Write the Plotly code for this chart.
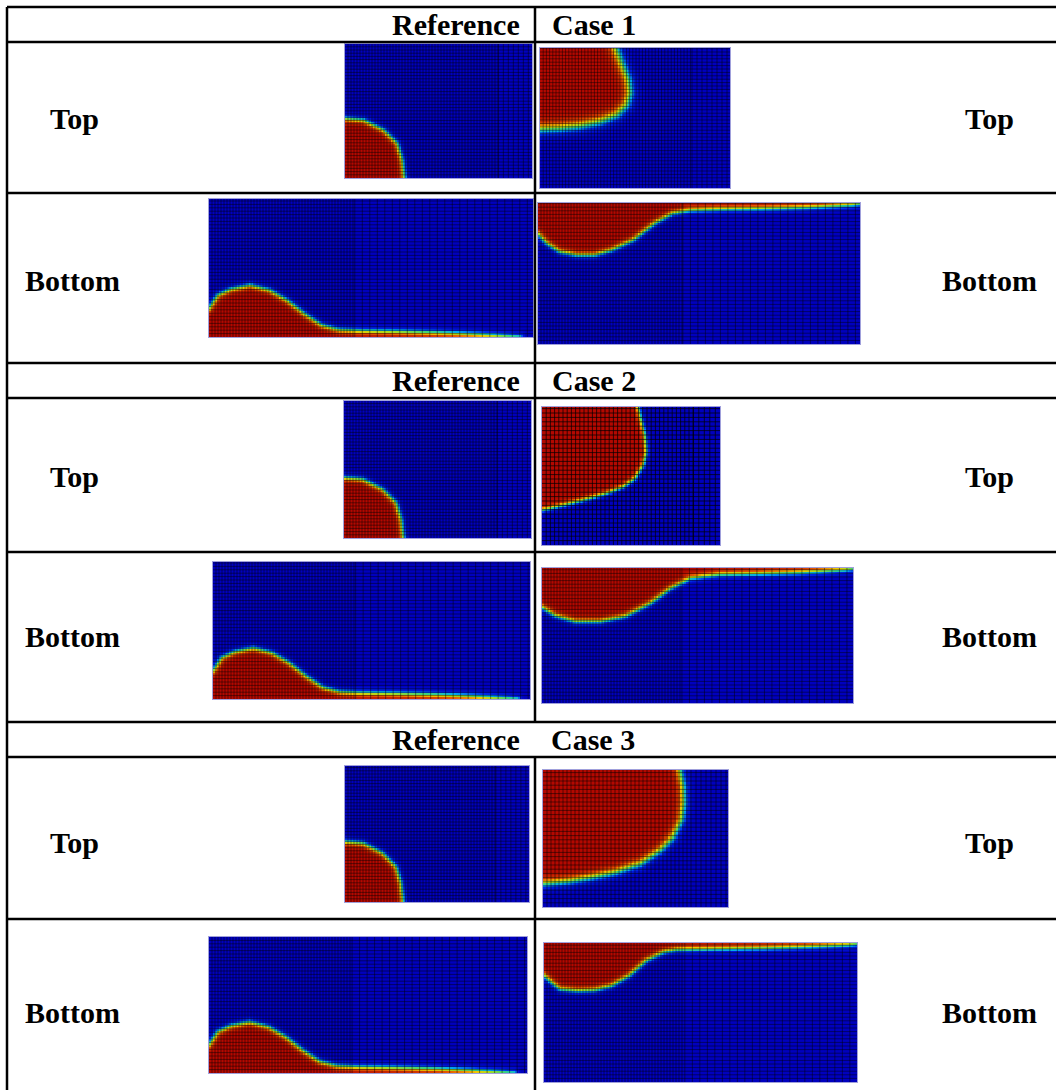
import numpy as np
import plotly.graph_objects as go

FIG_W, FIG_H = 1056, 1090

# ---- text -------------------------------------------------------------
REF_NAME = "Reference"
CASE_NAMES = ["Case 1", "Case 2", "Case 3"]
ROW_LABELS = ["Top", "Bottom"]

# ---- interface profiles (fraction of panel width / height, origin at bottom-left)
# reference solution, top view: liquid lobe in the lower-left corner
REF_TOP_U = [0.0, 0.098, 0.205, 0.277, 0.304, 0.316]
REF_TOP_V = [0.444, 0.432, 0.358, 0.259, 0.136, 0.0]
# reference solution, bottom view: hump with a thin film along the floor
REF_BOTTOM_U = [0.0, 0.027, 0.067, 0.127, 0.187, 0.241, 0.294, 0.348, 0.401, 0.468, 0.575, 0.709, 0.829, 0.96]
REF_BOTTOM_V = [0.206, 0.303, 0.346, 0.375, 0.339, 0.266, 0.169, 0.085, 0.052, 0.045, 0.040, 0.032, 0.020, 0.0]

# case 1
CASE1_TOP_U = [0.40, 0.43, 0.465, 0.474, 0.456, 0.404, 0.316, 0.211, 0.105, 0.0]
CASE1_TOP_V = [1.0, 0.892, 0.773, 0.677, 0.593, 0.522, 0.474, 0.443, 0.426, 0.419]
CASE1_BOTTOM_U = [0.0, 0.027, 0.067, 0.121, 0.175, 0.229, 0.296, 0.363, 0.417, 0.471, 0.565, 0.70, 0.834, 0.97, 1.0]
CASE1_BOTTOM_V = [0.779, 0.712, 0.652, 0.628, 0.628, 0.664, 0.736, 0.856, 0.925, 0.948, 0.955, 0.960, 0.968, 0.985, 0.995]

# case 2
CASE2_TOP_U = [0.540, 0.559, 0.578, 0.587, 0.568, 0.522, 0.456, 0.362, 0.231, 0.118, 0.0]
CASE2_TOP_V = [1.0, 0.892, 0.795, 0.675, 0.578, 0.482, 0.422, 0.373, 0.325, 0.289, 0.253]
CASE2_BOTTOM_U = [0.0, 0.042, 0.106, 0.186, 0.267, 0.347, 0.412, 0.476, 0.572, 0.70, 0.83, 0.97, 1.0]
CASE2_BOTTOM_V = [0.711, 0.650, 0.607, 0.607, 0.645, 0.740, 0.850, 0.925, 0.952, 0.958, 0.966, 0.985, 0.995]

# case 3
CASE3_TOP_U = [0.739, 0.757, 0.760, 0.748, 0.703, 0.631, 0.523, 0.396, 0.270, 0.144, 0.0]
CASE3_TOP_V = [1.0, 0.878, 0.756, 0.634, 0.512, 0.415, 0.317, 0.256, 0.220, 0.190, 0.171]
CASE3_BOTTOM_U = [0.0, 0.024, 0.051, 0.107, 0.162, 0.217, 0.273, 0.328, 0.383, 0.425, 0.564, 0.702, 0.813, 0.97, 1.0]
CASE3_BOTTOM_V = [0.767, 0.719, 0.671, 0.659, 0.664, 0.695, 0.767, 0.875, 0.935, 0.952, 0.958, 0.963, 0.970, 0.985, 0.995]

# volume-fraction colour map (blue = gas, dark red = liquid)
VOF_SCALE = [
    [0.00, "rgb(0,0,190)"],
    [0.15, "rgb(0,40,235)"],
    [0.30, "rgb(0,170,240)"],
    [0.45, "rgb(60,210,120)"],
    [0.60, "rgb(170,220,30)"],
    [0.72, "rgb(240,200,0)"],
    [0.85, "rgb(230,90,0)"],
    [1.00, "rgb(180,8,0)"],
]


def px_x(x):
    return x / FIG_W


def px_y(y):
    return 1.0 - y / FIG_H


def vof_field(u_pts, v_pts, corner, W, H, band, cell=2.0):
    """Smoothed volume fraction on a cell grid from an interface polyline."""
    nx = int(round(W / cell))
    ny = int(round(H / cell))
    uc = (np.arange(nx) + 0.5) / nx
    vc = (np.arange(ny) + 0.5) / ny
    UU, VV = np.meshgrid(uc, vc)
    px, py = UU * W, VV * H
    P = np.column_stack([np.asarray(u_pts) * W, np.asarray(v_pts) * H])
    d = np.full(px.shape, np.inf)
    for (ax, ay), (bx, by) in zip(P[:-1], P[1:]):
        ex, ey = bx - ax, by - ay
        L2 = ex * ex + ey * ey
        t = np.clip(((px - ax) * ex + (py - ay) * ey) / L2, 0, 1)
        d = np.minimum(d, np.hypot(px - ax - t * ex, py - ay - t * ey))
    edge = 0.0 if corner == "bl" else 1.0
    poly = list(zip(u_pts, v_pts)) + [(u_pts[-1], edge), (0.0, edge)]
    poly = np.array(poly) * [W, H]
    inside = np.zeros(px.shape, bool)
    n = len(poly)
    for i in range(n):
        x1, y1 = poly[i]
        x2, y2 = poly[(i + 1) % n]
        if y1 == y2:
            continue
        cond = (y1 > py) != (y2 > py)
        xint = x1 + (py - y1) * (x2 - x1) / (y2 - y1)
        inside ^= cond & (px < xint)
    sd = np.where(inside, d, -d)
    return uc, vc, 1.0 / (1.0 + np.exp(-sd / band))


def mesh_lines(W, H, split, dx_fine, dx_coarse, dy):
    xs = list(np.arange(dx_fine, split * W, dx_fine)) + list(np.arange(split * W, W, dx_coarse))
    ys = list(np.arange(dy, H, dy))
    lx, ly = [], []
    for x in xs:
        lx += [x / W, x / W, None]
        ly += [0, 1, None]
    for y in ys:
        lx += [0, 1, None]
        ly += [y / H, y / H, None]
    return lx, ly


# panel placement (pixels) and drawing style
PROFILES = {
    "ref_top": (REF_TOP_U, REF_TOP_V, "bl"),
    "ref_bottom": (REF_BOTTOM_U, REF_BOTTOM_V, "bl"),
    "c1_top": (CASE1_TOP_U, CASE1_TOP_V, "tl"),
    "c1_bottom": (CASE1_BOTTOM_U, CASE1_BOTTOM_V, "tl"),
    "c2_top": (CASE2_TOP_U, CASE2_TOP_V, "tl"),
    "c2_bottom": (CASE2_BOTTOM_U, CASE2_BOTTOM_V, "tl"),
    "c3_top": (CASE3_TOP_U, CASE3_TOP_V, "tl"),
    "c3_bottom": (CASE3_BOTTOM_U, CASE3_BOTTOM_V, "tl"),
}

PANELS = [
    # key, (x0, y0, x1, y1), band, (split, dx_fine, dx_coarse, dy, alpha)
    ("ref_top", (345, 44, 532, 178), 1.6, (0.82, 3.0, 5.0, 3.2, 0.45)),
    ("c1_top", (540, 48, 730, 188), 3.0, (0.80, 3.2, 5.0, 3.4, 0.45)),
    ("ref_bottom", (209, 199, 533, 337), 1.6, (0.45, 3.0, 7.5, 3.4, 0.45)),
    ("c1_bottom", (538, 203, 860, 344), 1.6, (0.45, 3.0, 7.5, 3.6, 0.45)),
    ("ref_top", (344, 401, 531, 538), 1.6, (0.82, 3.0, 5.0, 3.2, 0.45)),
    ("c2_top", (542, 407, 720, 545), 1.4, (0.85, 4.2, 5.5, 4.4, 0.7)),
    ("ref_bottom", (213, 562, 530, 699), 1.6, (0.45, 3.0, 7.5, 3.4, 0.45)),
    ("c2_bottom", (542, 568, 853, 703), 1.6, (0.45, 3.0, 7.5, 3.6, 0.45)),
    ("ref_top", (345, 766, 529, 902), 1.6, (0.82, 3.0, 5.0, 3.2, 0.45)),
    ("c3_top", (543, 770, 728, 907), 2.4, (0.80, 4.0, 5.0, 4.2, 0.5)),
    ("ref_bottom", (209, 937, 527, 1073), 1.6, (0.45, 3.0, 7.5, 3.4, 0.45)),
    ("c3_bottom", (544, 943, 857, 1082), 1.6, (0.45, 3.0, 7.5, 3.6, 0.45)),
]

fig = go.Figure()
layout = dict(
    width=FIG_W,
    height=FIG_H,
    margin=dict(l=0, r=0, t=0, b=0),
    paper_bgcolor="white",
    plot_bgcolor="white",
    showlegend=False,
)

for k, (key, (x0, y0, x1, y1), band, (split, dxf, dxc, dy, alpha)) in enumerate(PANELS, start=1):
    u_pts, v_pts, corner = PROFILES[key]
    W, H = x1 - x0, y1 - y0
    uc, vc, z = vof_field(u_pts, v_pts, corner, W, H, band)
    xa = "x" if k == 1 else f"x{k}"
    ya = "y" if k == 1 else f"y{k}"
    fig.add_trace(go.Heatmap(
        x=uc, y=vc, z=z, zmin=0, zmax=1, colorscale=VOF_SCALE,
        showscale=False, hoverinfo="skip", xaxis=xa, yaxis=ya,
    ))
    lx, ly = mesh_lines(W, H, split, dxf, dxc, dy)
    fig.add_trace(go.Scatter(
        x=lx, y=ly, mode="lines", hoverinfo="skip", xaxis=xa, yaxis=ya,
        line=dict(color=f"rgba(0,0,0,{alpha})", width=1),
    ))
    axis_style = dict(range=[0, 1], showgrid=False, zeroline=False, showticklabels=False,
                      ticks="", showline=True, mirror=True, linewidth=1,
                      linecolor="rgba(150,150,215,0.9)", fixedrange=True)
    layout["xaxis" if k == 1 else f"xaxis{k}"] = dict(
        domain=[px_x(x0), px_x(x1)], anchor=ya, **axis_style)
    layout["yaxis" if k == 1 else f"yaxis{k}"] = dict(
        domain=[px_y(y1), px_y(y0)], anchor=xa, **axis_style)

fig.update_layout(**layout)

# ---- table rules ------------------------------------------------------
LINE = dict(color="black", width=2.5)
for y in [7, 42, 193, 363, 398, 552, 722, 757, 919]:
    fig.add_shape(type="line", xref="paper", yref="paper",
                  x0=px_x(7), x1=1.0, y0=px_y(y), y1=px_y(y), line=LINE)
fig.add_shape(type="line", xref="paper", yref="paper",
              x0=px_x(7), x1=px_x(7), y0=px_y(7), y1=0.0, line=LINE)
fig.add_shape(type="line", xref="paper", yref="paper",
              x0=px_x(535), x1=px_x(535), y0=px_y(7), y1=px_y(722), line=LINE)
fig.add_shape(type="line", xref="paper", yref="paper",
              x0=px_x(535), x1=px_x(535), y0=px_y(757), y1=0.0, line=LINE)

# ---- labels -----------------------------------------------------------
FONT = dict(family="Liberation Serif, Times New Roman, serif", size=30, color="black")


def label(text, x, y, anchor):
    fig.add_annotation(text=f"<b>{text}</b>", x=px_x(x), y=px_y(y), xref="paper", yref="paper",
                       xanchor=anchor, yanchor="middle", showarrow=False, font=FONT)


header_y = [24, 380, 739]
top_y = [118, 476, 842]
bottom_y = [280, 636, 1012]
case_x = [550, 550, 549]
for i, name in enumerate(CASE_NAMES):
    label(REF_NAME, 522, header_y[i], "right")
    label(name, case_x[i], header_y[i], "left")
    label(ROW_LABELS[0], 74, top_y[i], "center")
    label(ROW_LABELS[0], 989, top_y[i], "center")
    label(ROW_LABELS[1], 72, bottom_y[i], "center")
    label(ROW_LABELS[1], 989, bottom_y[i], "center")

fig.write_html("out.html")
